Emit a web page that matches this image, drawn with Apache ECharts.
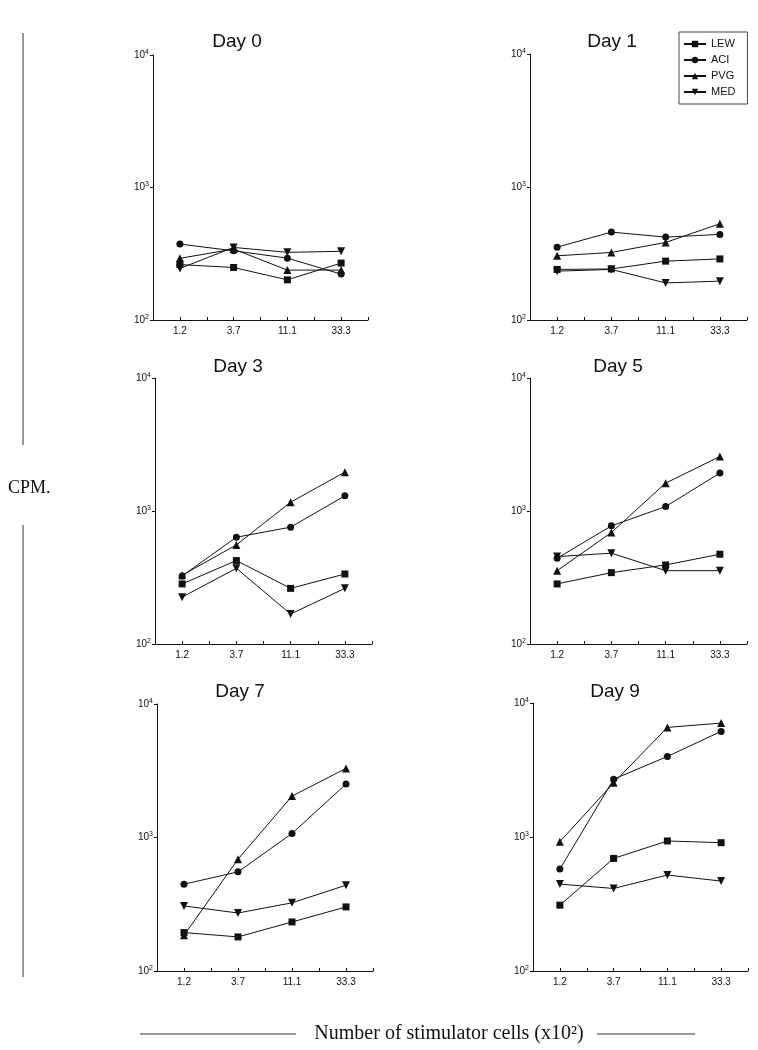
<!DOCTYPE html>
<html>
<head>
<meta charset="utf-8">
<script src="https://cdn.jsdelivr.net/npm/echarts@6/dist/echarts.min.js"></script>
<style>html,body{margin:0;padding:0;background:#fff}#c{width:758px;height:1050px}</style>
</head>
<body>
<div id="c"></div>
<script>
// ---- data ----
const categories = ['1.2', '3.7', '11.1', '33.3'];
const seriesNames = ['LEW', 'ACI', 'PVG', 'MED'];
const panelTitles = ['Day 0', 'Day 1', 'Day 3', 'Day 5', 'Day 7', 'Day 9'];
const yTicks = [100, 1000, 10000];

const day0 = {
  LEW: [262, 249, 201, 269],
  ACI: [374, 333, 293, 222],
  PVG: [292, 343, 238, 238],
  MED: [245, 353, 324, 330]
};
const day1 = {
  LEW: [240, 242, 277, 288],
  ACI: [353, 458, 420, 440],
  PVG: [304, 322, 383, 529],
  MED: [233, 240, 190, 196]
};
const day3 = {
  LEW: [283, 424, 262, 336],
  ACI: [325, 635, 756, 1300],
  PVG: [329, 556, 1165, 1960],
  MED: [225, 371, 168, 262]
};
const day5 = {
  LEW: [283, 344, 393, 473],
  ACI: [441, 773, 1080, 1927],
  PVG: [356, 689, 1620, 2570],
  MED: [454, 482, 356, 356]
};
const day7 = {
  LEW: [194, 180, 233, 302],
  ACI: [447, 553, 1072, 2512],
  PVG: [185, 688, 2042, 3293],
  MED: [307, 272, 324, 439]
};
const day9 = {
  LEW: [310, 692, 934, 907],
  ACI: [576, 2700, 3990, 6140],
  PVG: [923, 2535, 6577, 7080],
  MED: [445, 413, 520, 469]
};
const panels = [day0, day1, day3, day5, day7, day9];

// ---- layout / style ----
const grids = [
  {left: 153, top: 55, width: 215, height: 265},
  {left: 530, top: 54, width: 217, height: 266},
  {left: 155, top: 378, width: 217, height: 266},
  {left: 530, top: 378, width: 217, height: 266},
  {left: 157, top: 704, width: 216, height: 267},
  {left: 533, top: 703, width: 215, height: 268}
];
const titlePos = [[237, 42], [612, 42], [238, 367], [618, 367], [240, 692], [615, 692]];
const symbols = {
  LEW: {symbol: 'rect', size: 7},
  ACI: {symbol: 'circle', size: 7},
  PVG: {symbol: 'triangle', size: 8},
  MED: {symbol: 'path://M0,0L10,0L5,9Z', size: 8}
};
const ink = '#111';
const sans = 'Liberation Sans, Arial, sans-serif';
const serif = 'Liberation Serif, Times New Roman, serif';

const xAxes = [], yAxes = [], series = [];
grids.forEach((g, i) => {
  xAxes.push({
    type: 'category', gridIndex: i, data: categories, boundaryGap: true,
    axisLine: {lineStyle: {color: ink, width: 1}},
    axisTick: {show: true, inside: true, length: 3, lineStyle: {color: ink}},
    axisLabel: {color: ink, fontSize: 10, fontFamily: sans, margin: 6},
    splitLine: {show: false}
  });
  xAxes.push({
    type: 'category', gridIndex: i, data: categories, boundaryGap: true, position: 'bottom',
    axisLine: {show: false},
    axisTick: {show: true, inside: true, length: 3, alignWithLabel: true, lineStyle: {color: ink}},
    axisLabel: {show: false}, splitLine: {show: false}
  });
  yAxes.push({
    type: 'log', logBase: 10, min: 100, max: 10000, gridIndex: i,
    axisLine: {show: true, lineStyle: {color: ink, width: 1}},
    axisTick: {show: true, inside: false, length: 3, lineStyle: {color: ink}},
    axisLabel: {
      color: ink, fontFamily: sans, margin: 4,
      formatter: v => '{b|10}{s|' + Math.round(Math.log10(v)) + '}',
      rich: {b: {fontSize: 10, fontFamily: sans, color: ink}, s: {fontSize: 7, fontFamily: sans, color: ink, padding: [0, 0, 6, 0]}}
    },
    splitLine: {show: false}
  });
  seriesNames.forEach(name => {
    series.push({
      name: name, type: 'line', xAxisIndex: i * 2, yAxisIndex: i,
      data: panels[i][name],
      symbol: symbols[name].symbol, symbolSize: symbols[name].size, showSymbol: true,
      lineStyle: {color: ink, width: 1}, itemStyle: {color: ink},
      emphasis: {disabled: true}
    });
  });
});

const graphics = [];
panelTitles.forEach((t, i) => {
  graphics.push({type: 'text', x: titlePos[i][0], y: titlePos[i][1],
    style: {text: t, fontSize: 19, fontFamily: sans, fill: ink, textAlign: 'center', textVerticalAlign: 'middle'}});
});
const L = (x1, y1, x2, y2) => ({type: 'line', shape: {x1, y1, x2, y2}, style: {stroke: '#333', lineWidth: 1}});
graphics.push(L(23, 33, 23, 445), L(23, 525, 23, 977), L(140, 1034, 296, 1034), L(597, 1034, 695, 1034));
graphics.push({type: 'text', x: 8, y: 488, style: {text: 'CPM.', fontSize: 18, fontFamily: serif, fill: ink, textAlign: 'left', textVerticalAlign: 'middle'}});
graphics.push({type: 'text', x: 449, y: 1034, style: {text: 'Number of stimulator cells (x10²)', fontSize: 20, fontFamily: serif, fill: ink, textAlign: 'center', textVerticalAlign: 'middle'}});

const chart = echarts.init(document.getElementById('c'), null, {renderer: 'canvas'});
chart.setOption({
  animation: false,
  backgroundColor: '#fff',
  grid: grids,
  xAxis: xAxes,
  yAxis: yAxes,
  legend: {
    data: seriesNames, orient: 'vertical', left: 679, top: 32,
    padding: [6, 12, 6, 4], itemGap: 4, itemWidth: 22, itemHeight: 8,
    borderColor: '#444', borderWidth: 1,
    textStyle: {fontSize: 11, fontFamily: sans, color: ink, lineHeight: 12}
  },
  series: series,
  graphic: graphics
});
</script>
</body>
</html>
